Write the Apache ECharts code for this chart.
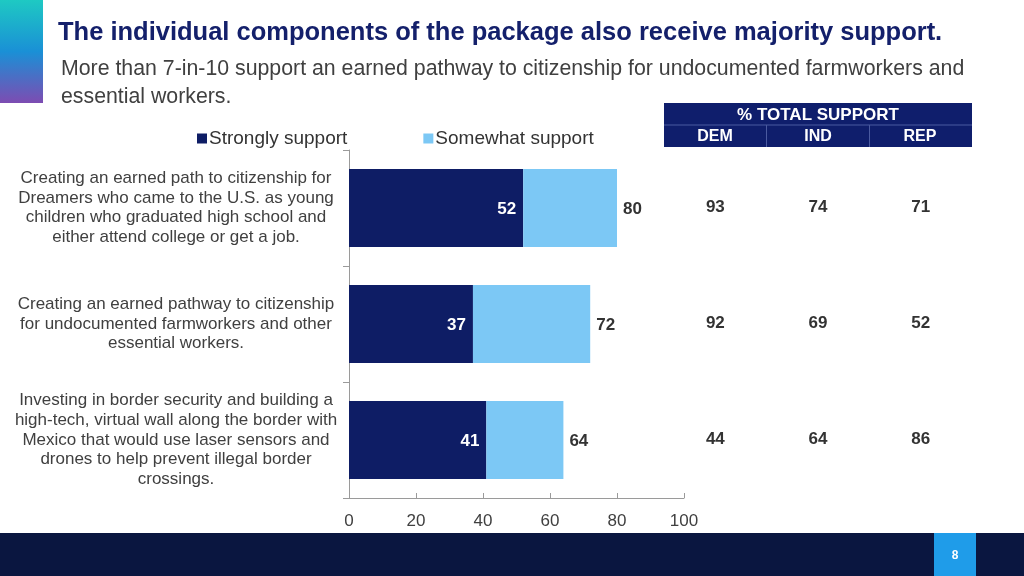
<!DOCTYPE html>
<html>
<head>
<meta charset="utf-8">
<script src="https://cdn.jsdelivr.net/npm/echarts@6/dist/echarts.min.js"></script>
<style>
html,body{margin:0;padding:0;background:#fff;}
#c{width:1024px;height:576px;}
</style>
</head>
<body>
<div id="c"></div>
<script>
const categories = [
  'Creating an earned path to citizenship for\nDreamers who came to the U.S. as young\nchildren who graduated high school and\neither attend college or get a job.',
  'Creating an earned pathway to citizenship\nfor undocumented farmworkers and other\nessential workers.',
  'Investing in border security and building a\nhigh-tech, virtual wall along the border with\nMexico that would use laser sensors and\ndrones to help prevent illegal border\ncrossings.'
];
const strongly = [52, 37, 41];
const somewhat = [28, 35, 23];
const totals = [80, 72, 64];
const partyCols = ['DEM', 'IND', 'REP'];
const dem = [93, 92, 44];
const ind = [74, 69, 64];
const rep = [71, 52, 86];
const xTicks = [0, 20, 40, 60, 80, 100];

const FONT = '"Liberation Sans", Arial, Helvetica, sans-serif';
const NAVY = '#0e1d65';
const LIGHT = '#7cc8f5';

const tableData = [];
[dem, ind, rep].forEach((col, ci) => {
  col.forEach((v, ri) => tableData.push([ci, ri, v]));
});

const chart = echarts.init(document.getElementById('c'), null, {renderer: 'canvas'});
chart.setOption({
  animation: false,
  textStyle: {fontFamily: FONT},
  legend: {
    data: ['Strongly support', 'Somewhat support'],
    left: 192, top: 124,
    itemWidth: 10, itemHeight: 10, itemGap: 76,
    icon: 'rect',
    textStyle: {fontSize: 19, color: '#333', fontFamily: FONT, padding: [0, 0, 0, -3]}
  },
  grid: [
    {left: 349, right: 340, top: 150, bottom: 78},
    {left: 664, width: 308, top: 150, bottom: 78}
  ],
  xAxis: [
    {
      type: 'value', gridIndex: 0, min: xTicks[0], max: xTicks[xTicks.length - 1], interval: 20,
      splitLine: {show: false},
      axisLine: {show: true, lineStyle: {color: '#9a9a9a'}},
      axisTick: {show: true, inside: true, length: 5, lineStyle: {color: '#9a9a9a'}},
      axisLabel: {fontSize: 17, color: '#404040', margin: 15, fontFamily: FONT}
    },
    {
      type: 'category', gridIndex: 1, data: partyCols,
      axisLine: {show: false}, axisTick: {show: false}, axisLabel: {show: false}
    }
  ],
  yAxis: [
    {
      type: 'category', gridIndex: 0, data: categories, inverse: true,
      axisLine: {show: true, lineStyle: {color: '#9a9a9a'}},
      axisTick: {show: true, length: 6, lineStyle: {color: '#9a9a9a'}},
      axisLabel: {fontSize: 17, color: '#404040', align: 'center', margin: 173, lineHeight: 19.6, fontFamily: FONT}
    },
    {
      type: 'category', gridIndex: 1, data: categories, inverse: true,
      axisLine: {show: false}, axisTick: {show: false}, axisLabel: {show: false}
    }
  ],
  series: [
    {
      name: 'Strongly support', type: 'bar', stack: 's', xAxisIndex: 0, yAxisIndex: 0,
      data: strongly, barWidth: 78,
      itemStyle: {color: NAVY},
      label: {show: true, position: 'insideRight', distance: 7, offset: [0, 1], color: '#fff', fontWeight: 'bold', fontSize: 17, fontFamily: FONT}
    },
    {
      name: 'Somewhat support', type: 'bar', stack: 's', xAxisIndex: 0, yAxisIndex: 0,
      data: somewhat, barWidth: 78,
      itemStyle: {color: LIGHT},
      label: {show: true, position: 'right', distance: 6, offset: [0, 1], color: '#333', fontWeight: 'bold', fontSize: 17, fontFamily: FONT,
        formatter: p => String(totals[p.dataIndex])}
    },
    {
      name: 'table', type: 'scatter', xAxisIndex: 1, yAxisIndex: 1,
      data: tableData, symbolSize: 0, silent: true,
      itemStyle: {opacity: 1},
      label: {show: true, position: 'inside', offset: [0, -1], formatter: p => String(p.value[2]),
        color: '#333', fontWeight: 'bold', fontSize: 17, fontFamily: FONT}
    }
  ],
  graphic: [
    {type: 'rect', left: 0, top: 0, shape: {width: 43, height: 103}, silent: true,
      style: {fill: new echarts.graphic.LinearGradient(0, 0, 0, 1, [
        {offset: 0, color: '#1ec9c3'}, {offset: 0.5, color: '#1a90d6'}, {offset: 1, color: '#7d4cb2'}])}},
    {type: 'text', left: 58, top: 20, silent: true,
      style: {text: 'The individual components of the package also receive majority support.', fill: '#14206b',
        font: 'bold 25.5px ' + FONT}},
    {type: 'text', left: 61, top: 55, silent: true,
      style: {text: 'More than 7-in-10 support an earned pathway to citizenship for undocumented farmworkers and\nessential workers.',
        fill: '#404040', font: '21.3px ' + FONT, lineHeight: 28}},
    // table header
    {type: 'rect', left: 664, top: 103, shape: {width: 308, height: 44}, silent: true, style: {fill: '#0f1e6c'}},
    {type: 'line', silent: true, shape: {x1: 664, y1: 125, x2: 972, y2: 125}, style: {stroke: '#4a5aa0', lineWidth: 1}},
    {type: 'line', silent: true, shape: {x1: 766.5, y1: 125, x2: 766.5, y2: 147}, style: {stroke: '#4a5aa0', lineWidth: 1}},
    {type: 'line', silent: true, shape: {x1: 869.5, y1: 125, x2: 869.5, y2: 147}, style: {stroke: '#4a5aa0', lineWidth: 1}},
    {type: 'text', x: 818, y: 115, silent: true,
      style: {text: '% TOTAL SUPPORT', fill: '#fff', font: 'bold 17px ' + FONT, align: 'center', verticalAlign: 'middle'}},
    {type: 'text', x: 715, y: 137, silent: true,
      style: {text: partyCols[0], fill: '#fff', font: 'bold 16px ' + FONT, align: 'center', verticalAlign: 'middle'}},
    {type: 'text', x: 818, y: 137, silent: true,
      style: {text: partyCols[1], fill: '#fff', font: 'bold 16px ' + FONT, align: 'center', verticalAlign: 'middle'}},
    {type: 'text', x: 920, y: 137, silent: true,
      style: {text: partyCols[2], fill: '#fff', font: 'bold 16px ' + FONT, align: 'center', verticalAlign: 'middle'}},
    // footer
    {type: 'rect', left: 0, top: 533, shape: {width: 1024, height: 43}, silent: true, style: {fill: '#0a1640'}},
    {type: 'rect', left: 934, top: 533, shape: {width: 42, height: 43}, silent: true, style: {fill: '#1f9ce9'}},
    {type: 'text', x: 955, y: 556, silent: true,
      style: {text: '8', fill: '#fff', font: 'bold 12px ' + FONT, align: 'center', verticalAlign: 'middle'}}
  ]
});
</script>
</body>
</html>
